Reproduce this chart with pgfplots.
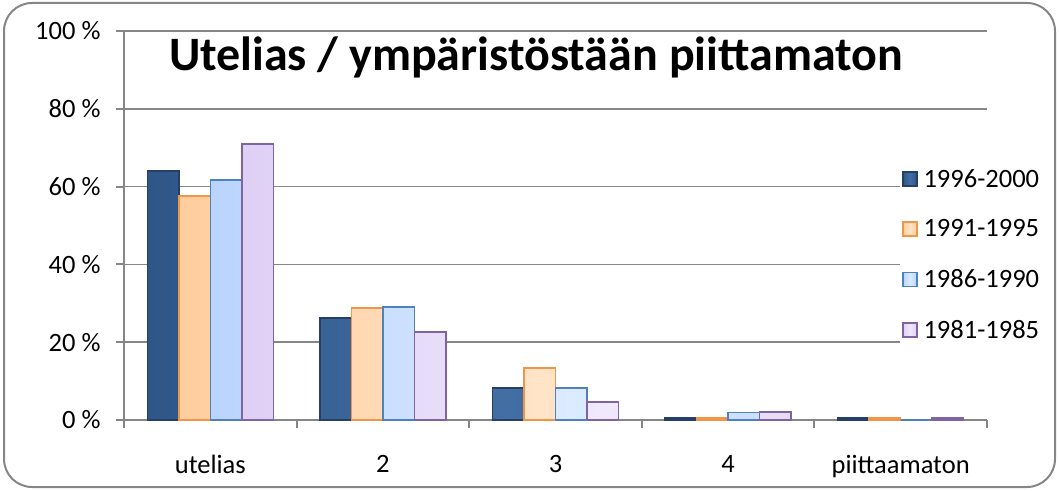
\documentclass[border=0pt]{standalone}
\usepackage{pgfplots}
\pgfplotsset{compat=1.18}
\usepackage{fontspec}
\setmainfont{Carlito}
\definecolor{c1fill}{RGB}{48,86,136}
\definecolor{c1mid}{RGB}{66,110,164}
\definecolor{c1line}{RGB}{36,64,100}
\definecolor{c2fill}{RGB}{255,205,158}
\definecolor{c2mid}{RGB}{255,228,200}
\definecolor{c2line}{RGB}{240,150,70}
\definecolor{c3fill}{RGB}{186,212,252}
\definecolor{c3mid}{RGB}{220,235,255}
\definecolor{c3line}{RGB}{79,129,189}
\definecolor{c4fill}{RGB}{222,208,245}
\definecolor{c4mid}{RGB}{240,232,252}
\definecolor{c4line}{RGB}{128,100,162}
\definecolor{gridc}{RGB}{134,134,134}
\begin{document}
\begin{tikzpicture}[x=1pt,y=1pt]
\path (0,0) rectangle (1059,490);
\draw[gridc, line width=2pt, rounded corners=28pt] (4,3) rectangle (1055,487);
\begin{axis}[
  at={(124pt,70pt)}, anchor=south west,
  scale only axis, width=863pt, height=389pt,
  ybar=0pt, bar width=31.5pt,
  xmin=-0.5, xmax=4.5, ymin=0, ymax=100,
  axis x line*=bottom, axis y line*=left,
  axis line style={-, gridc, line width=2pt},
  ymajorgrids, grid style={gridc, line width=1.6pt},
  ytick={0,20,40,60,80,100},
  yticklabels={0 \%,20 \%,40 \%,60 \%,80 \%,100 \%},
  xtick={-0.5,0.5,1.5,2.5,3.5,4.5},
  xticklabels={,,,,,},
  extra x ticks={0,1,2,3,4},
  extra x tick labels={utelias,2,3,4,piittaamaton},
  extra x tick style={major tick length=0pt, xticklabel style={yshift=-32pt}},
  tick align=outside, major tick length=8pt,
  tick style={gridc, line width=2pt},
  ticklabel style={font=\fontsize{26.5}{29}\selectfont},
  yticklabel style={xshift=-12pt},
  legend style={at={(0.899,0.655)}, anchor=north west, draw=none, fill=white,
    font=\fontsize{26.5}{29}\selectfont, row sep=27pt, inner sep=2pt,
    /tikz/every odd column/.append style={column sep=4pt}},
  legend cell align=left,
  legend image code/.code={\draw[#1, line width=1.5pt] (0pt,-7pt) rectangle (14pt,7pt);},
]
\addplot[draw=c1line, line width=1.5pt, left color=c1fill, right color=c1fill, middle color=c1mid] coordinates {(0,64.0) (1,26.2) (2,8.2) (3,0.5) (4,0.5)};
\addplot[draw=c2line, line width=1.5pt, left color=c2fill, right color=c2fill, middle color=c2mid] coordinates {(0,57.6) (1,28.8) (2,13.4) (3,0.5) (4,0.5)};
\addplot[draw=c3line, line width=1.5pt, left color=c3fill, right color=c3fill, middle color=c3mid] coordinates {(0,61.7) (1,29.0) (2,8.2) (3,1.9) (4,0)};
\addplot[draw=c4line, line width=1.5pt, left color=c4fill, right color=c4fill, middle color=c4mid] coordinates {(0,71.0) (1,22.6) (2,4.6) (3,2.1) (4,0.5)};
\legend{1996-2000,1991-1995,1986-1990,1981-1985}
\end{axis}
\node[font=\bfseries\fontsize{48}{52}\selectfont] at (536,433) {Utelias / ympäristöstään piittamaton};
\end{tikzpicture}
\end{document}
